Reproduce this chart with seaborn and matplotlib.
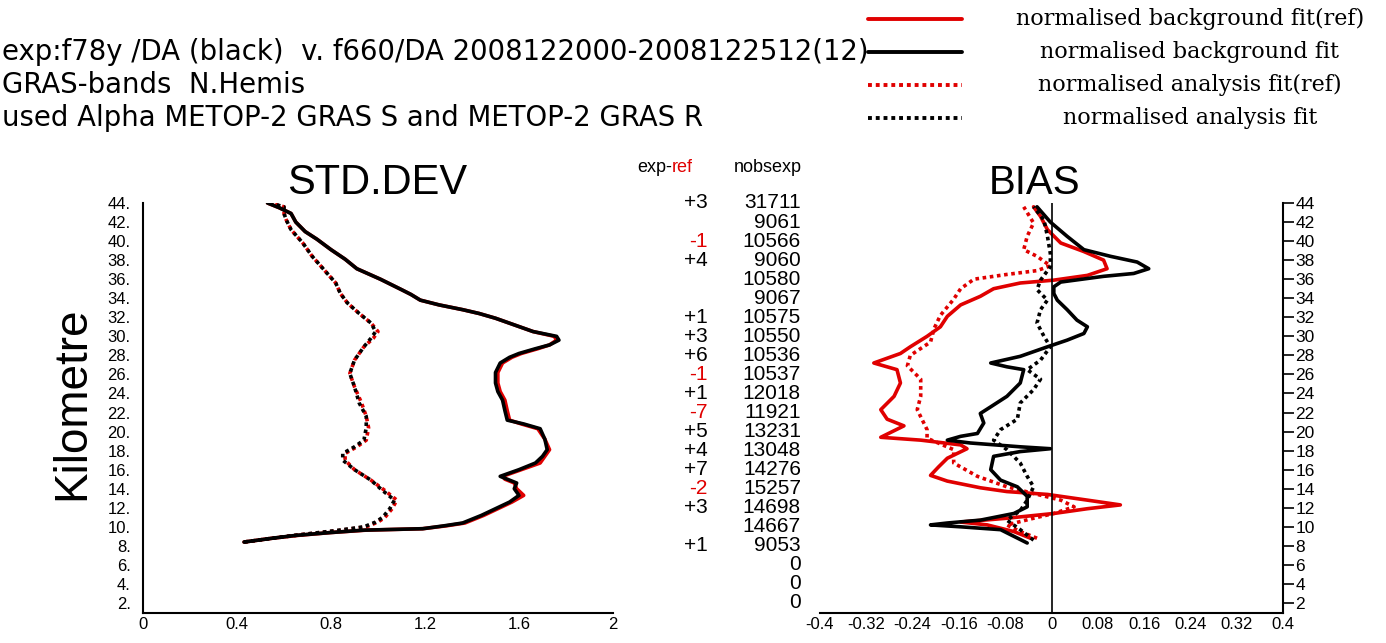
import matplotlib
matplotlib.use("Agg")
import numpy as np
import pandas as pd
import matplotlib.pyplot as plt
import matplotlib.transforms as mtransforms
from matplotlib.lines import Line2D
import seaborn as sns

# ---- STD.DEV profiles (km, normalised std dev) ----
std_bg_km = [8.4, 8.8, 9.1, 9.4, 9.65, 9.8, 10.1, 10.4, 11.2, 11.9, 12.6, 13.3, 14.0, 14.6, 15.0,
             15.3, 16.0, 16.7, 17.4, 18.1, 19.2, 20.3, 20.8, 21.2, 22.2, 23.3, 24.2, 25.1, 26.2,
             27.2, 27.8, 28.2, 28.7, 29.1, 29.6, 30.0, 30.5, 31.2, 31.9, 32.4, 32.8, 33.3, 33.8,
             34.4, 34.9, 36.0, 37.1, 38.1, 39.1, 40.2, 41.0, 42.0, 42.9, 43.5, 44.0]
std_bg = [0.43, 0.55, 0.65, 0.80, 0.94, 1.19, 1.28, 1.36, 1.44, 1.50, 1.56, 1.60, 1.58, 1.59, 1.55,
          1.52, 1.60, 1.67, 1.70, 1.72, 1.71, 1.69, 1.62, 1.55, 1.54, 1.53, 1.51, 1.50, 1.50,
          1.52, 1.56, 1.60, 1.67, 1.73, 1.77, 1.76, 1.66, 1.58, 1.50, 1.43, 1.36, 1.26, 1.18,
          1.14, 1.10, 1.01, 0.91, 0.86, 0.80, 0.74, 0.69, 0.65, 0.63, 0.58, 0.53]
std_bg_ref = [0.43, 0.55, 0.66, 0.80, 0.95, 1.19, 1.29, 1.37, 1.45, 1.51, 1.57, 1.62, 1.59, 1.58, 1.54,
              1.53, 1.61, 1.69, 1.71, 1.73, 1.71, 1.68, 1.61, 1.56, 1.55, 1.54, 1.52, 1.51, 1.51,
              1.53, 1.57, 1.61, 1.68, 1.73, 1.76, 1.75, 1.66, 1.58, 1.50, 1.43, 1.36, 1.26, 1.18,
              1.14, 1.10, 1.01, 0.91, 0.86, 0.80, 0.74, 0.69, 0.65, 0.63, 0.58, 0.53]
std_an_km = [8.4, 8.8, 9.2, 9.6, 10.0, 10.5, 11.0, 11.9, 12.8, 13.8, 14.9, 16.0, 17.0, 17.7, 18.4,
             19.1, 20.4, 21.6, 23.0, 24.7, 26.1, 27.5, 28.9, 29.8, 30.5, 31.4, 32.4, 33.5, 34.5,
             35.6, 37.0, 38.4, 39.8, 41.2, 42.2, 42.9, 43.6, 44.0]
std_an = [0.43, 0.55, 0.68, 0.82, 0.94, 0.99, 1.02, 1.05, 1.07, 1.02, 0.97, 0.90, 0.85, 0.85, 0.90,
          0.94, 0.95, 0.95, 0.92, 0.90, 0.88, 0.90, 0.94, 0.97, 0.99, 0.97, 0.92, 0.87, 0.84,
          0.82, 0.77, 0.72, 0.68, 0.63, 0.61, 0.60, 0.60, 0.54]
std_an_ref = [0.43, 0.55, 0.68, 0.83, 0.95, 1.00, 1.03, 1.06, 1.08, 1.03, 0.97, 0.90, 0.86, 0.86, 0.91,
              0.95, 0.96, 0.95, 0.93, 0.90, 0.88, 0.90, 0.94, 0.98, 1.00, 0.97, 0.92, 0.87, 0.84,
              0.82, 0.77, 0.72, 0.68, 0.63, 0.61, 0.60, 0.60, 0.54]

# ---- BIAS profiles (km, normalised bias) ----
bias_bg_km = [8.3, 9.0, 9.7, 10.0, 10.2, 10.4, 10.7, 11.4, 12.1, 13.2, 14.2, 14.9, 16.0, 17.4, 17.9,
              18.2, 18.4, 18.8, 19.1, 19.5, 19.8, 20.9, 21.9, 22.6, 23.7, 25.1, 26.5, 26.8, 27.2,
              27.9, 28.9, 29.6, 30.3, 31.0, 31.7, 32.8, 33.8, 34.5, 35.2, 35.7, 36.3, 36.6, 37.1,
              37.8, 38.4, 39.1, 40.5, 42.0, 43.6]
bias_bg = [-0.042, -0.065, -0.088, -0.157, -0.209, -0.180, -0.123, -0.065, -0.042, -0.042, -0.059,
           -0.088, -0.105, -0.100, -0.054, -0.002, -0.054, -0.140, -0.180, -0.157, -0.128, -0.117,
           -0.123, -0.105, -0.077, -0.054, -0.048, -0.077, -0.105, -0.054, -0.007, 0.027, 0.056,
           0.062, 0.044, 0.027, 0.010, 0.004, 0.004, 0.016, 0.090, 0.142, 0.168, 0.148, 0.102,
           0.056, 0.027, -0.002, -0.025]
bias_bg_ref_km = [8.8, 9.5, 10.2, 10.5, 10.9, 11.4, 11.9, 12.3, 12.8, 13.4, 13.7, 14.1, 14.8, 15.4,
                  16.3, 17.2, 18.2, 18.6, 19.1, 19.4, 20.6, 21.3, 22.3, 23.7, 25.1, 26.5, 27.2, 28.2,
                  28.9, 30.0, 31.0, 32.1, 33.3, 34.2, 35.0, 35.6, 35.9, 36.4, 37.1, 38.0, 38.9, 39.8,
                  41.2, 42.6, 43.6]
bias_bg_ref = [-0.036, -0.065, -0.111, -0.157, -0.077, 0.004, 0.062, 0.119, 0.062, -0.007, -0.077,
               -0.123, -0.180, -0.209, -0.195, -0.180, -0.146, -0.157, -0.226, -0.295, -0.255,
               -0.284, -0.295, -0.272, -0.261, -0.267, -0.307, -0.261, -0.244, -0.215, -0.192,
               -0.180, -0.157, -0.123, -0.100, -0.054, 0.004, 0.062, 0.096, 0.090, 0.056, 0.016,
               -0.007, -0.019, -0.031]
bias_an_km = [8.6, 9.7, 10.7, 11.7, 12.8, 14.2, 15.3, 16.7, 18.1, 19.1, 20.2, 21.3, 23.0, 24.4, 25.5,
              26.5, 27.5, 28.9, 30.0, 31.4, 32.8, 33.8, 34.9, 35.9, 37.3, 38.7, 40.5, 42.2, 43.6]
bias_an = [-0.031, -0.054, -0.077, -0.054, -0.042, -0.031, -0.042, -0.054, -0.077, -0.100, -0.088,
           -0.059, -0.054, -0.031, -0.019, -0.042, -0.019, -0.002, -0.013, -0.025, -0.019, -0.007,
           -0.025, -0.019, -0.002, -0.002, -0.007, -0.013, -0.031]
bias_an_ref_km = [8.8, 9.5, 10.2, 10.9, 11.4, 12.1, 12.8, 13.5, 14.2, 15.3, 16.7, 18.1, 19.3, 20.2,
                  22.3, 23.7, 25.5, 26.9, 28.0, 29.4, 30.8, 32.2, 33.9, 35.0, 36.0, 36.5, 36.9, 37.4,
                  38.4, 39.1, 40.5, 41.9, 43.6]
bias_an_ref = [-0.025, -0.054, -0.077, -0.031, 0.004, 0.039, 0.016, -0.031, -0.077, -0.128, -0.169,
               -0.169, -0.215, -0.215, -0.232, -0.226, -0.226, -0.249, -0.244, -0.209, -0.203,
               -0.192, -0.169, -0.157, -0.134, -0.077, -0.025, -0.002, -0.025, -0.048, -0.042,
               -0.031, -0.048]

# ---- middle table ----
levels = list(range(44, 0, -2))
exp_ref = ["+3", "", "-1", "+4", "", "", "+1", "+3", "+6", "-1", "+1", "-7", "+5", "+4", "+7",
           "-2", "+3", "", "+1", "", "", ""]
nobsexp = [31711, 9061, 10566, 9060, 10580, 9067, 10575, 10550, 10536, 10537, 12018, 11921,
           13231, 13048, 14276, 15257, 14698, 14667, 9053, 0, 0, 0]

std_x_ticks = [0, 0.4, 0.8, 1.2, 1.6, 2]
std_x_labels = ["0", "0.4", "0.8", "1.2", "1.6", "2"]
bias_x_ticks = [-0.4, -0.32, -0.24, -0.16, -0.08, 0, 0.08, 0.16, 0.24, 0.32, 0.4]
bias_x_labels = ["-0.4", "-0.32", "-0.24", "-0.16", "-0.08", "0", "0.08", "0.16", "0.24", "0.32", "0.4"]

header_lines = ["exp:f78y /DA (black)  v. f660/DA 2008122000-2008122512(12)",
                "GRAS-bands  N.Hemis",
                "used Alpha METOP-2 GRAS S and METOP-2 GRAS R"]
legend_labels = ["normalised background fit(ref)", "normalised background fit",
                 "normalised analysis fit(ref)", "normalised analysis fit"]

RED = "#e00000"
W, H = 1386, 643

sns.set_theme(style="white", rc={"axes.linewidth": 1.5, "axes.edgecolor": "black",
                                 "text.color": "black", "xtick.color": "black",
                                 "ytick.color": "black", "axes.labelcolor": "black"})
plt.rcParams["font.family"] = ["Liberation Sans", "DejaVu Sans"]


def fx(px):
    return px / W


def fy(py):
    return 1 - py / H


fig = plt.figure(figsize=(W / 100, H / 100), dpi=100)
ax1 = fig.add_axes([fx(143), fy(613), (613 - 143) / W, (613 - 203) / H])
ax2 = fig.add_axes([fx(820), fy(613), (1283 - 820) / W, (613 - 203) / H])

dotted = (0, (1, 1))
std_series = [
    (std_bg_ref, std_bg_km, RED, "-"),
    (std_an_ref, std_an_km, RED, dotted),
    (std_bg, std_bg_km, "black", "-"),
    (std_an, std_an_km, "black", dotted),
]
bias_series = [
    (bias_bg_ref, bias_bg_ref_km, RED, "-"),
    (bias_an_ref, bias_an_ref_km, RED, dotted),
    (bias_bg, bias_bg_km, "black", "-"),
    (bias_an, bias_an_km, "black", dotted),
]
for ax, series in [(ax1, std_series), (ax2, bias_series)]:
    for vals, km, col, ls in series:
        df = pd.DataFrame({"val": vals, "km": km})
        sns.lineplot(data=df, x="val", y="km", sort=False, estimator=None, ax=ax,
                     color=col, linestyle=ls, linewidth=2.6)

ax2.axvline(0, color="black", lw=1.2)

for ax in (ax1, ax2):
    ax.set_ylim(0.95, 44)
    ax.set_yticks(levels)
    ax.set_xlabel("")
    ax.set_ylabel("")
    ax.spines["top"].set_visible(False)
    ax.tick_params(axis="x", direction="in", length=10, width=1.2, labelsize=12, pad=3)
    ax.tick_params(axis="y", direction="out", length=8, width=1.2, labelsize=12, pad=1)

ax1.set_xlim(0, 2)
ax1.set_xticks(std_x_ticks)
ax1.set_xticklabels(std_x_labels)
ax1.set_yticklabels([f"{v}." for v in levels])
ax1.spines["right"].set_visible(False)

ax2.set_xlim(-0.4, 0.4)
ax2.set_xticks(bias_x_ticks)
ax2.set_xticklabels(bias_x_labels)
ax2.spines["left"].set_visible(False)
ax2.yaxis.tick_right()
ax2.set_yticklabels([str(v) for v in levels])
ax2.tick_params(axis="y", labelsize=12.5, pad=1)

fig.text(fx(377), fy(183), "STD.DEV", fontsize=30, ha="center", va="center")
fig.text(fx(1035), fy(183), "BIAS", fontsize=29, ha="center", va="center")
fig.text(fx(72), fy(403), "Kilometre", fontsize=33, rotation=90, ha="center", va="center")

# middle columns
blend = mtransforms.blended_transform_factory(fig.transFigure, ax1.transData)
for lev, d, n in zip(levels, exp_ref, nobsexp):
    col = RED if d.startswith("-") else "black"
    fig.text(fx(708), lev, d, transform=blend, fontsize=15, ha="right", va="center", color=col)
    fig.text(fx(801), lev, str(n), transform=blend, fontsize=15, ha="right", va="center")
fig.text(fx(672), fy(168), "exp-", fontsize=13, ha="right", va="center")
fig.text(fx(672), fy(168), "ref", fontsize=13, ha="left", va="center", color=RED)
fig.text(fx(768), fy(168), "nobsexp", fontsize=13, ha="center", va="center")

# header text
for i, line in enumerate(header_lines):
    fig.text(fx(2), fy(52 + 33 * i), line, fontsize=19.8, ha="left", va="center",
             family=["DejaVu Sans"])

# legend
legend_styles = [(RED, "-"), ("black", "-"), (RED, dotted), ("black", dotted)]
for i, ((col, ls), lab) in enumerate(zip(legend_styles, legend_labels)):
    yy = fy(19 + 33 * i)
    fig.add_artist(Line2D([fx(868), fx(962)], [yy, yy], transform=fig.transFigure,
                          color=col, linestyle=ls, linewidth=2.8))
    fig.text(fx(1190), yy, lab, fontsize=16, ha="center", va="center",
             family=["DejaVu Serif"])

fig.savefig("out.png", dpi=100)
